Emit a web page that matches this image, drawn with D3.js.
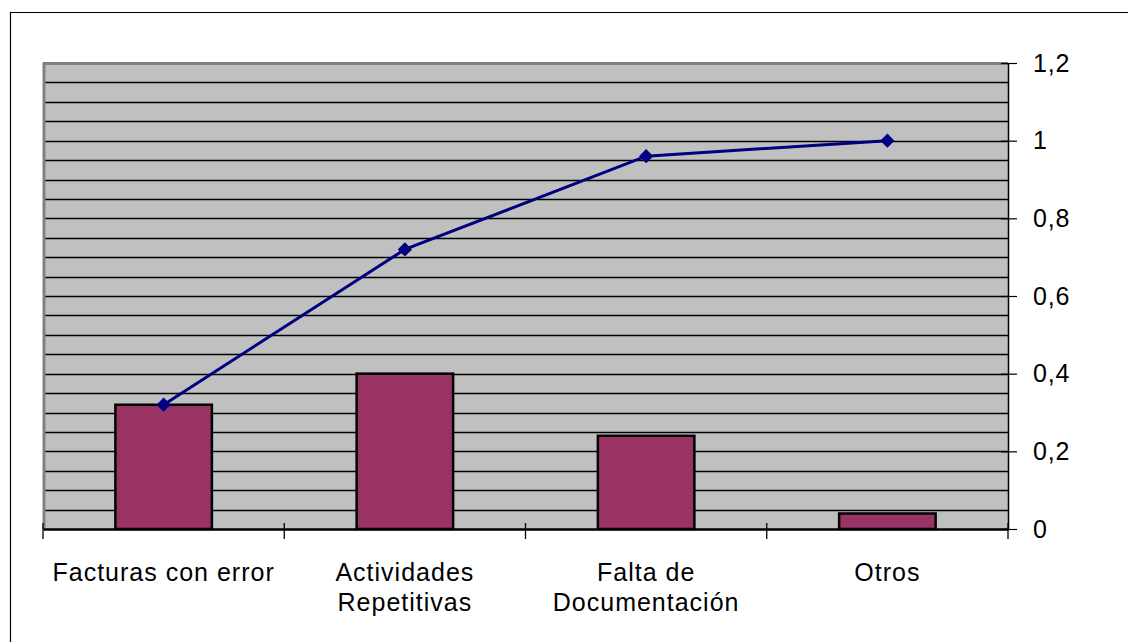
<!DOCTYPE html>
<html>
<head>
<meta charset="utf-8">
<script src="https://cdn.jsdelivr.net/npm/d3@7/dist/d3.min.js"></script>
<style>
  html, body { margin: 0; padding: 0; background: #ffffff; }
  svg { display: block; }
  text { font-family: "Liberation Sans", Arial, sans-serif; fill: #000; }
</style>
</head>
<body>
<svg id="chart" width="1128" height="642"></svg>
<script>
// Pareto data: share of each cause and the running total
const categories = [["Facturas con error"], ["Actividades", "Repetitivas"], ["Falta de", "Documentación"], ["Otros"]];
const shares = [0.32, 0.40, 0.24, 0.04];
const cumulative = [0.32, 0.72, 0.96, 1.00];
const yTicks = [0, 0.2, 0.4, 0.6, 0.8, 1, 1.2];
const yTickLabels = ["0", "0,2", "0,4", "0,6", "0,8", "1", "1,2"];

const svg = d3.select("#chart");
const W = 1128, H = 642;
const plot = { left: 43, right: 1008, top: 63, bottom: 529 };

// Outer frame (left and top edges visible)
svg.append("path")
  .attr("d", `M10.5,${H} V12.5 H${W}`)
  .attr("fill", "none").attr("stroke", "#000").attr("stroke-width", 1.2);

const keys = categories.map((c, i) => i);
const x = d3.scaleBand().domain(keys).range([plot.left, plot.right]).paddingInner(0).paddingOuter(0);
const y = d3.scaleLinear().domain([0, 1.2]).range([plot.bottom, plot.top]);

// Plot background
svg.append("rect")
  .attr("x", plot.left).attr("y", plot.top)
  .attr("width", plot.right - plot.left).attr("height", plot.bottom - plot.top)
  .attr("fill", "#c0c0c0");

// Horizontal gridlines every 0.05
const gridVals = d3.range(1, 24).map(k => k * 0.05);
svg.append("g").selectAll("line").data(gridVals).join("line")
  .attr("x1", plot.left).attr("x2", plot.right)
  .attr("y1", d => Math.round(y(d)) + 0.5).attr("y2", d => Math.round(y(d)) + 0.5)
  .attr("stroke", "#000").attr("stroke-width", 1.5);

// Gray plot border on top and left
svg.append("path")
  .attr("d", `M${plot.left + 1},${plot.bottom} V${plot.top + 0.5} H${plot.right}`)
  .attr("fill", "none").attr("stroke", "#808080").attr("stroke-width", 3);

// Bars
const barW = x.bandwidth() * 0.4;
svg.append("g").selectAll("rect").data(shares).join("rect")
  .attr("x", (d, i) => x(i) + (x.bandwidth() - barW) / 2)
  .attr("y", d => y(d))
  .attr("width", barW)
  .attr("height", d => y(0) - y(d))
  .attr("fill", "#993366")
  .attr("stroke", "#000").attr("stroke-width", 2.5);

// Right value axis
const yAxis = d3.axisRight(y).tickValues(yTicks)
  .tickFormat((d, i) => yTickLabels[i]).tickSize(9).tickSizeOuter(0).tickPadding(16);
const ga = svg.append("g").attr("transform", `translate(${plot.right},0)`).call(yAxis);
ga.select(".domain").attr("stroke", "#000").attr("stroke-width", 1.5);
ga.selectAll(".tick line").attr("stroke", "#000").attr("stroke-width", 1.2).attr("x1", -7);
ga.selectAll(".tick text").attr("font-size", 25).attr("letter-spacing", 0.8)
  .attr("font-family", "Liberation Sans, Arial, sans-serif").attr("fill", "#000");
ga.attr("font-family", null);

// Category axis
const xAxis = d3.axisBottom(x).tickSize(0).tickFormat("");
const gx = svg.append("g").attr("transform", `translate(0,${plot.bottom})`).call(xAxis);
gx.select(".domain").attr("stroke", "#000").attr("stroke-width", 2.5);
gx.selectAll(".tick").remove();
// Tick marks at category boundaries
const bounds = keys.map(k => x(k)).concat([plot.right]);
svg.append("g").selectAll("line").data(bounds).join("line")
  .attr("x1", d => d).attr("x2", d => d)
  .attr("y1", plot.bottom - 6).attr("y2", plot.bottom + 10)
  .attr("stroke", "#000").attr("stroke-width", 1.3);

// Category labels
const lbl = svg.append("g").selectAll("text").data(categories).join("text")
  .attr("x", (d, i) => x(i) + x.bandwidth() / 2)
  .attr("y", 581)
  .attr("text-anchor", "middle")
  .attr("font-size", 25)
  .attr("letter-spacing", 1);
lbl.selectAll("tspan").data((d, i) => d.map(s => ({ s, i }))).join("tspan")
  .attr("x", d => x(d.i) + x.bandwidth() / 2)
  .attr("dy", (d, j) => j === 0 ? 0 : 30)
  .text(d => d.s);

// Cumulative line with diamond markers
const line = d3.line().x((d, i) => x(i) + x.bandwidth() / 2).y(d => y(d));
svg.append("path").datum(cumulative)
  .attr("d", line).attr("fill", "none")
  .attr("stroke", "#000080").attr("stroke-width", 3);
svg.append("g").selectAll("path").data(cumulative).join("path")
  .attr("transform", (d, i) => `translate(${x(i) + x.bandwidth() / 2},${y(d)})`)
  .attr("d", d3.symbol().type(d3.symbolDiamond2).size(130))
  .attr("fill", "#000080");
</script>
</body>
</html>
